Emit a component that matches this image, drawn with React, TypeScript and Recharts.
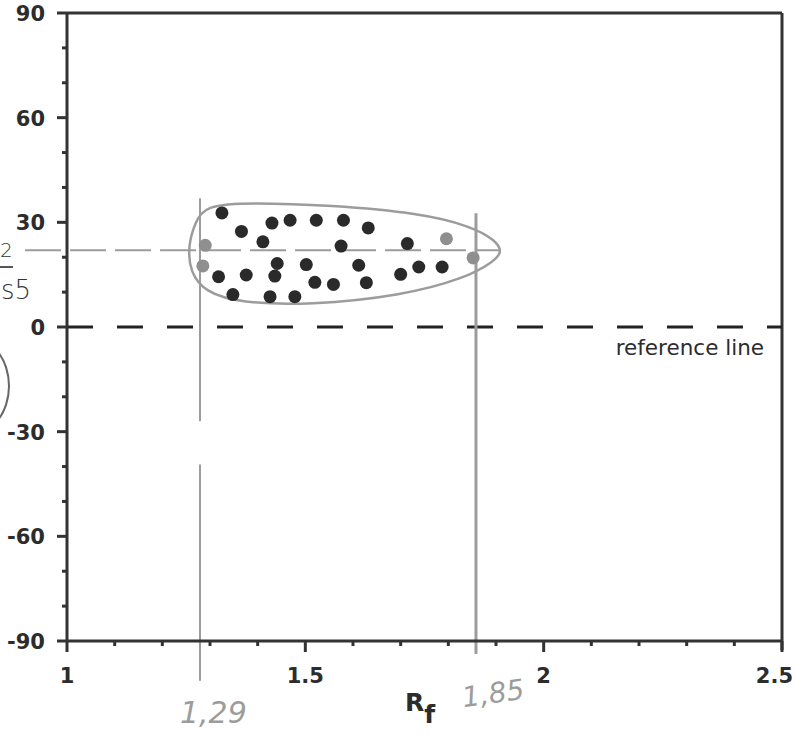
import { ComposedChart, Scatter, Line, XAxis, YAxis, ReferenceLine } from 'recharts';

// measured values (Rf vs angle)
const rfBlack = [
  1.325, 1.366, 1.43, 1.468, 1.523, 1.58, 1.632, 1.411, 1.575, 1.714,
  1.318, 1.376, 1.436, 1.441, 1.502, 1.52, 1.559, 1.612, 1.628, 1.7,
  1.738, 1.787, 1.348, 1.426, 1.478,
];
const angleBlack = [
  32.7, 27.4, 29.8, 30.6, 30.6, 30.6, 28.4, 24.4, 23.2, 23.9,
  14.4, 14.9, 14.6, 18.2, 17.9, 12.8, 12.2, 17.7, 12.7, 15.1,
  17.2, 17.2, 9.3, 8.7, 8.7,
];
const rfGrey = [1.29, 1.285, 1.796, 1.852];
const angleGrey = [23.4, 17.5, 25.3, 19.8];

// hand drawn envelope around the cluster
const outlineRf = [1.29, 1.384, 1.553, 1.742, 1.847, 1.899, 1.914, 1.893, 1.836, 1.7, 1.51, 1.363, 1.29, 1.258, 1.254, 1.269];
const outlineAngle = [34.9, 35.7, 34.9, 32.6, 28.9, 24.9, 21.4, 18.6, 14.0, 8.9, 6.3, 6.9, 10.0, 15.7, 23.4, 30.0];

// pen marks
const penRf = [1.279, 1.858];
const penAngle = 22;

const xTicks = [1, 1.1, 1.2, 1.3, 1.4, 1.5, 1.6, 1.7, 1.8, 1.9, 2, 2.1, 2.2, 2.3, 2.4, 2.5];
const xMajor = [1, 1.5, 2, 2.5];
const yTicks = [-90, -80, -70, -60, -50, -40, -30, -20, -10, 0, 10, 20, 30, 40, 50, 60, 70, 80, 90];
const yMajor = [-90, -60, -30, 0, 30, 60, 90];

const blackPts = rfBlack.map((x, i) => ({ x, y: angleBlack[i] }));
const greyPts = rfGrey.map((x, i) => ({ x, y: angleGrey[i] }));
const outline = outlineRf.map((x, i) => ({ x, y: outlineAngle[i] }));

const AX = '#333';
const PEN = '#9c9c9c';
const tickFont = { fontFamily: '"DejaVu Sans", sans-serif', fontWeight: 700, fontSize: 21, fill: '#2c2c2c' };

const XTick = (props: any) => {
  const { x, y, payload } = props;
  const v = payload.value;
  const major = xMajor.includes(v);
  const last = v === 2.5;
  return (
    <g>
      <line x1={x} x2={x} y1={y} y2={y + (major ? 11 : 5)} stroke={AX} strokeWidth={3} />
      {major && (
        <text x={last ? x + 11 : x} y={y + 42} textAnchor={last ? 'end' : 'middle'} style={tickFont}>
          {v}
        </text>
      )}
    </g>
  );
};

const YTick = (props: any) => {
  const { x, y, payload } = props;
  const v = payload.value;
  const major = yMajor.includes(v);
  return (
    <g>
      <line x1={x - (major ? 10 : 5)} x2={x} y1={y} y2={y} stroke={AX} strokeWidth={3} />
      {major && (
        <text x={x - 22} y={y + 8} textAnchor="end" style={tickFont}>
          {v}
        </text>
      )}
    </g>
  );
};

const dot = (fill: string) => (p: any) => <circle cx={p.cx} cy={p.cy} r={6.5} fill={fill} />;

const hand = {
  position: 'absolute' as const,
  color: PEN,
  fontFamily: '"DejaVu Sans", sans-serif',
  fontWeight: 200,
  lineHeight: 1,
};

export default function App() {
  return (
    <div style={{ position: 'absolute', left: 0, top: 0, width: 796, height: 743, background: '#fff', overflow: 'hidden' }}>
      <ComposedChart width={796} height={743} margin={{ top: 13, right: 14, left: 7, bottom: 42 }}>
        <XAxis
          dataKey="x"
          type="number"
          domain={[1, 2.5]}
          ticks={xTicks}
          interval={0}
          allowDataOverflow
          height={60}
          tickSize={0}
          tickMargin={0}
          tick={<XTick />}
          axisLine={{ stroke: AX, strokeWidth: 3 }}
          tickLine={false}
        />
        <YAxis
          dataKey="y"
          type="number"
          domain={[-90, 90]}
          ticks={yTicks}
          interval={0}
          allowDataOverflow
          width={60}
          tickSize={0}
          tickMargin={0}
          tick={<YTick />}
          axisLine={{ stroke: AX, strokeWidth: 3 }}
          tickLine={false}
        />
        <ReferenceLine segment={[{ x: 1, y: 90 }, { x: 2.5, y: 90 }]} stroke={AX} strokeWidth={3} ifOverflow="visible" />
        <ReferenceLine segment={[{ x: 2.5, y: 90 }, { x: 2.5, y: -92.6 }]} stroke={AX} strokeWidth={3} ifOverflow="visible" />
        <ReferenceLine
          y={0}
          stroke="#222"
          strokeWidth={3}
          strokeDasharray="26 24"
          label={{
            content: (p: any) => (
              <text
                x={p.viewBox.x + p.viewBox.width - 18}
                y={p.viewBox.y + 28}
                textAnchor="end"
                style={{ fontFamily: '"DejaVu Sans", sans-serif', fontSize: 21.5, fill: '#2c2c2c' }}
              >
                reference line
              </text>
            ),
          }}
        />
        {/* pen marks */}
        <ReferenceLine segment={[{ x: 0.912, y: penAngle }, { x: 1.91, y: penAngle }]} stroke={PEN} strokeWidth={2} strokeDasharray="36 9" ifOverflow="visible" />
        <ReferenceLine segment={[{ x: penRf[0], y: 36.9 }, { x: penRf[0], y: -27 }]} stroke={PEN} strokeWidth={2} ifOverflow="visible" />
        <ReferenceLine segment={[{ x: penRf[0], y: -39.4 }, { x: penRf[0], y: -101.4 }]} stroke={PEN} strokeWidth={2} ifOverflow="visible" />
        <ReferenceLine segment={[{ x: penRf[1], y: 32.6 }, { x: penRf[1], y: -93.7 }]} stroke={PEN} strokeWidth={3} ifOverflow="visible" />
        <Line data={outline} dataKey="y" type="basisClosed" stroke={PEN} strokeWidth={2.5} dot={false} isAnimationActive={false} />
        <Scatter data={greyPts} fill="#8f8f8f" shape={dot('#8f8f8f')} isAnimationActive={false} />
        <Scatter data={blackPts} fill="#2a2a2a" shape={dot('#2a2a2a')} isAnimationActive={false} />
      </ComposedChart>

      {/* axis title */}
      <div style={{ position: 'absolute', left: 405, top: 690, fontFamily: '"DejaVu Sans", sans-serif', fontWeight: 700, fontSize: 25, color: '#2c2c2c', lineHeight: 1 }}>
        R<span style={{ position: 'relative', top: 12, fontSize: 25 }}>f</span>
      </div>

      {/* handwritten notes */}
      <div style={{ ...hand, left: 180, top: 698, fontSize: 30, fontStyle: 'italic' }}>1,29</div>
      <div style={{ ...hand, left: 462, top: 680, fontSize: 28, fontStyle: 'italic', transform: 'rotate(-8deg)' }}>1,85</div>
      <div style={{ ...hand, color: '#333', left: 0, top: 240, fontSize: 20 }}>2</div>
      <div style={{ position: 'absolute', left: 0, top: 266, width: 13, height: 2, background: '#555' }} />
      <div style={{ ...hand, color: '#333', left: 1, top: 277, fontSize: 26 }}>s5</div>
      <div style={{ position: 'absolute', left: -70, top: 336, width: 76, height: 96, border: '2px solid #666', borderRadius: '50%' }} />
    </div>
  );
}
